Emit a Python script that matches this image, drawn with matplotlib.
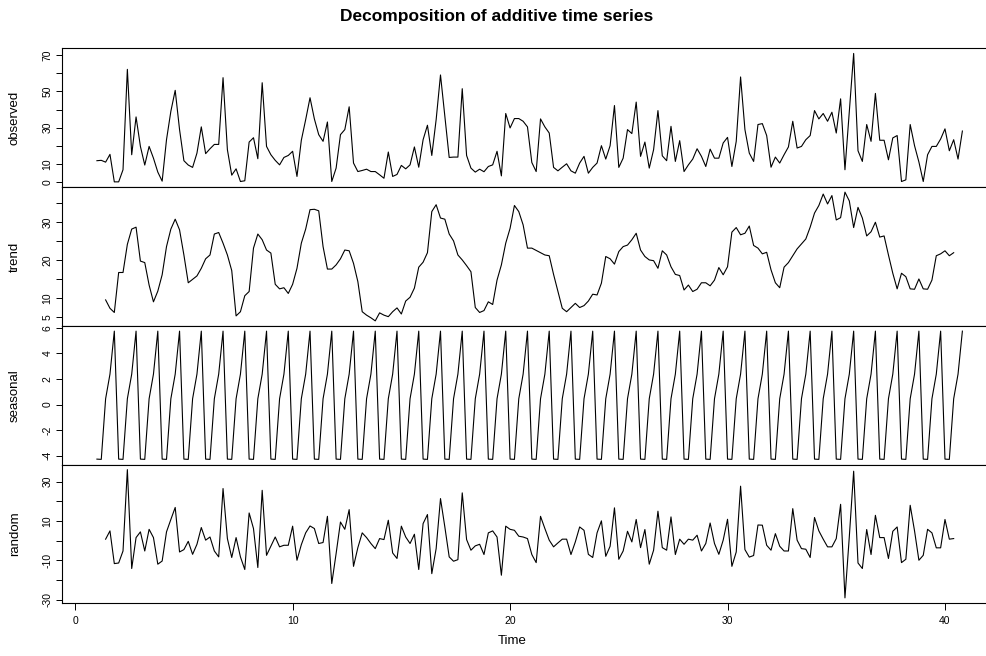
import numpy as np
import matplotlib
matplotlib.use("Agg")
import matplotlib.pyplot as plt

plt.rcParams['font.family'] = ['Liberation Sans', 'DejaVu Sans']

# series with frequency 5, starting at time 1
start = 1
frequency = 5

observed = [
    11.7, 11.9, 10.9, 15.2, 0, 0, 6.7, 62.2, 15, 35.9,
    19.6, 9.3, 19.6, 13.1, 5.4, 0.4, 23.3, 39, 50.6, 28.9,
    11.7, 9.3, 8, 15.9, 30.4, 15.6, 18.3, 20.7, 20.7, 57.6,
    17.8, 3.7, 7.2, 0.2, 0.6, 22, 24.4, 12.8, 54.8, 19.6,
    15, 11.9, 9.4, 13.5, 14.6, 16.9, 3, 23, 34.4, 46.5,
    34.8, 26.1, 22.4, 33.1, 0.2, 7.6, 26.1, 28.9, 41.5, 10.4,
    5.7, 6.3, 7, 5.7, 5.7, 3.9, 2, 16.5, 3, 4.1,
    9.1, 7.2, 9.4, 19.3, 8.1, 23.3, 31.3, 14.6, 34.4, 59.1,
    36.3, 13.5, 13.7, 13.7, 51.5, 14.6, 7.6, 5.4, 7, 5.6,
    8.5, 9.4, 16.9, 3.3, 37.8, 29.8, 35, 35, 33.5, 30.4,
    10.7, 5.7, 34.8, 30.4, 27, 8, 6.1, 8.1, 10, 6.1,
    4.8, 10.4, 14.1, 4.8, 8, 10.4, 20, 12.6, 20, 42.2,
    8, 13.1, 28.9, 26.7, 44.1, 14.1, 22, 7.6, 17.8, 39.4,
    14.4, 11.7, 30.7, 11.3, 22.8, 5.7, 9.4, 12.6, 18.3, 14.1,
    8.5, 18.1, 13.1, 13.1, 21.5, 24.6, 8.5, 22.4, 58, 28.9,
    15.9, 11.3, 31.7, 32.2, 25.6, 8.1, 13.7, 10.4, 15, 19.3,
    33.5, 18.7, 19.6, 23.3, 25.6, 39.4, 34.8, 37.8, 33.5, 38.5,
    27, 45.9, 6.7, 39, 71, 17.2, 11.3, 31.7, 22.4, 48.9,
    23, 23, 12.2, 24.3, 25.6, 0.2, 1.1, 31.7, 20, 11,
    0.2, 15, 19.6, 19.6, 23.7, 29.3, 17.2, 23.3, 12.6, 28.1,
]

nan = np.nan
trend = [
    nan, nan, 9.5, 7.3, 6.2, 16.7, 16.7, 24.1, 28.1, 28.6,
    19.7, 19.3, 13.4, 9.0, 11.8, 16.1, 23.5, 28.1, 30.7, 27.9,
    21.3, 14.0, 14.9, 15.8, 17.8, 20.3, 21.3, 26.8, 27.2, 24.4,
    21.3, 17.2, 5.3, 6.4, 10.6, 11.7, 23.1, 26.8, 25.3, 22.6,
    21.8, 13.6, 12.4, 12.7, 11.2, 13.6, 17.8, 24.4, 28.1, 33.2,
    33.3, 32.9, 23.5, 17.6, 17.6, 18.7, 20.3, 22.6, 22.4, 19.1,
    14.3, 6.4, 5.5, 4.8, 4.0, 6.1, 5.5, 5.1, 6.4, 7.4,
    5.8, 9.2, 10.2, 12.6, 18.1, 19.4, 21.9, 32.7, 34.5, 31.0,
    30.7, 26.8, 25.0, 21.3, 20.0, 18.5, 16.9, 7.5, 6.2, 6.7,
    9.0, 8.3, 14.7, 18.7, 24.4, 28.3, 34.3, 32.7, 29.2, 23.1,
    23.1, 22.5, 21.9, 21.3, 21.1, 16.2, 11.7, 7.3, 6.4, 7.5,
    8.6, 7.5, 8.0, 9.2, 11.0, 10.8, 13.9, 20.9, 20.3, 18.9,
    22.2, 23.5, 23.9, 25.3, 27.0, 22.6, 20.9, 20.0, 19.8, 17.8,
    22.4, 21.3, 18.2, 16.2, 15.9, 12.1, 13.4, 11.7, 12.3, 14.0,
    14.0, 13.2, 14.7, 18.0, 16.1, 18.2, 27.3, 28.5, 26.6, 27.0,
    28.9, 23.8, 23.1, 21.6, 22.0, 17.4, 14.0, 12.7, 18.1, 19.3,
    21.1, 22.9, 24.2, 25.5, 28.6, 32.3, 34.3, 37.3, 34.7, 36.9,
    30.5, 31.1, 37.8, 35.5, 28.5, 33.8, 31.0, 26.3, 27.4, 29.9,
    26.0, 26.3, 21.3, 16.5, 12.4, 16.5, 15.6, 12.4, 12.3, 15.0,
    12.4, 12.3, 14.7, 21.1, 21.6, 22.4, 21.1, 21.9, nan, nan,
]

seasonal_figure = [-4.28, -4.30, 0.45, 2.38, 5.75]

random = [
    nan, nan, 0.8, 5.0, -11.6, -11.3, -5.2, 36.1, -14.1, 1.6,
    4.5, -5.2, 5.8, 1.6, -11.9, -10.3, 4.5, 10.8, 16.9, -5.7,
    -4.5, -0.3, -6.9, -1.8, 6.7, 0.3, 1.9, -5.2, -8.2, 26.5,
    1.1, -8.5, 1.6, -8.2, -14.6, 14.1, 6.2, -13.6, 25.6, -7.4,
    -2.8, 1.9, -3.1, -2.3, -2.3, 7.4, -9.9, -2.0, 4.0, 7.5,
    6.2, -1.4, -0.9, 12.4, -21.7, -6.5, 9.5, 5.8, 15.8, -13.0,
    -3.5, 4.0, 1.6, -1.4, -4.0, 1.1, 0.6, 10.4, -6.2, -9.0,
    7.4, 1.9, -1.4, 3.3, -14.6, 8.7, 13.3, -16.7, -4.0, 21.4,
    7.0, -8.2, -10.4, -9.6, 24.3, 0.6, -4.8, -2.6, -1.8, -7.0,
    4.0, 5.0, 1.9, -17.5, 7.4, 5.8, 5.3, 2.3, 1.9, 1.1,
    -7.0, -11.1, 12.4, 6.2, 0.3, -3.1, -1.1, 0.8, 0.8, -7.0,
    -0.6, 7.0, 5.3, -6.9, -8.5, 4.0, 10.1, -7.9, -2.8, 16.7,
    -9.4, -5.2, 4.8, -0.6, 10.8, -3.5, 5.7, -11.9, -4.8, 15.0,
    -3.5, -4.8, 12.1, -7.0, 0.8, -1.8, 0.8, 0.3, 2.8, -5.2,
    -1.4, 9.0, -1.4, -6.9, 0.3, 10.9, -13.0, -5.7, 27.7, -4.5,
    -8.3, -7.5, 8.0, 7.9, -2.3, -4.8, 3.6, -2.8, -5.2, -5.2,
    16.3, 0.3, -4.0, -4.3, -8.5, 11.8, 5.0, 0.8, -3.1, -3.1,
    1.1, 18.5, -29.0, 2.0, 35.3, -11.3, -14.1, 5.7, -7.0, 12.9,
    1.6, 1.6, -9.0, 4.8, 7.0, -11.1, -9.4, 18.0, 5.0, -9.9,
    -7.4, 5.8, 4.0, -3.6, -3.6, 10.8, 0.8, 1.1, nan, nan,
]

n = len(observed)
time = start + np.arange(n) / frequency
seasonal = np.tile(seasonal_figure, n // frequency)

panels = [
    ("observed", observed, list(range(0, 71, 10)), [0, 10, 30, 50, 70]),
    ("trend", trend, list(range(5, 36, 5)), [5, 10, 20, 30]),
    ("seasonal", seasonal, list(range(-4, 7, 2)), list(range(-4, 7, 2))),
    ("random", random, list(range(-30, 31, 10)), [-30, -10, 10, 30]),
]

W, H = 986, 656
fig = plt.figure(figsize=(W / 100, H / 100), dpi=100)

left = 62.3 / W
right = 997.0 / W
edges = [48.3, 187.0, 326.0, 464.5, 603.0]

for k, (name, vals, ticks, shown) in enumerate(panels):
    top, bot = edges[k], edges[k + 1]
    ax = fig.add_axes([left, 1 - bot / H, right - left, (bot - top) / H])
    ax.plot(time, vals, color="black", lw=0.8)
    ax.set_xlim(time[0] - 0.04 * (time[-1] - time[0]),
                time[-1] + 0.04 * (time[-1] - time[0]))
    ax.margins(y=0.04)
    ax.set_yticks(ticks)
    ax.set_yticklabels([str(t) if t in shown else "" for t in ticks])
    ax.tick_params(axis="y", direction="out", length=4, width=0.7,
                   labelsize=7.5, pad=3, labelrotation=90)
    for lab in ax.get_yticklabels():
        lab.set_verticalalignment("center")
    for sp in ax.spines.values():
        sp.set_linewidth(0.8)
    fig.text(15 / W, 1 - (top + bot) / 2 / H, name, rotation=90,
             ha="center", va="center", fontsize=9.5)
    if k < 3:
        ax.set_xticks([])
    else:
        ax.set_xticks([0, 10, 20, 30, 40])
        ax.tick_params(axis="x", direction="out", length=5, width=0.7,
                       labelsize=7.5, pad=4)

fig.text(496.5 / W, 1 - 17 / H, "Decomposition of additive time series",
         ha="center", va="center", fontsize=12.5, fontweight="bold")
fig.text(512 / W, 1 - 641 / H, "Time", ha="center", va="center", fontsize=9.5)

fig.savefig("out.png", dpi=100)
